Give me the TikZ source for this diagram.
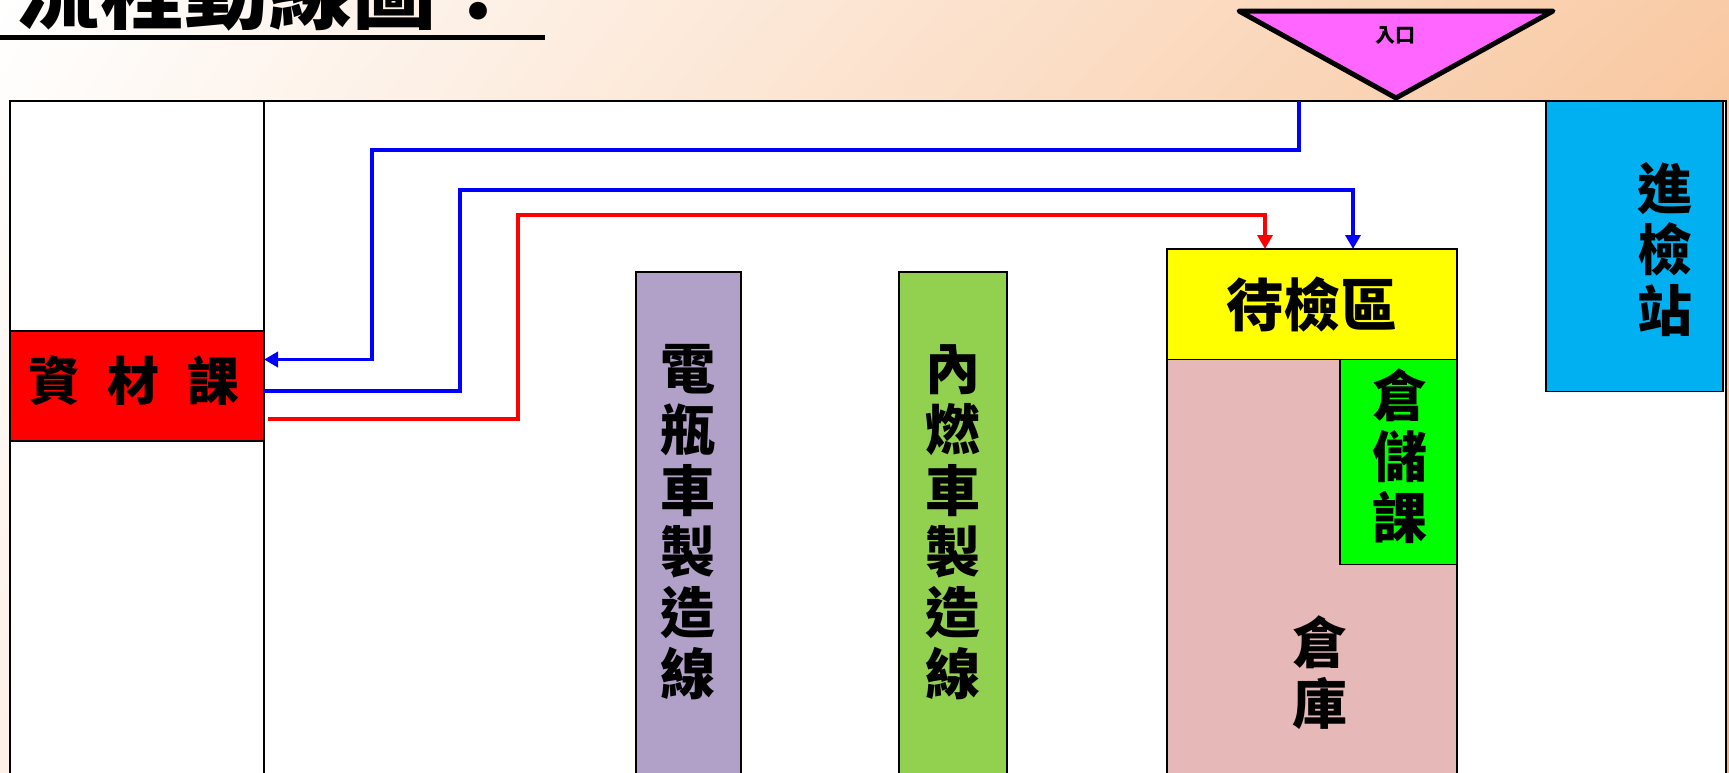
\documentclass[tikz,border=0pt]{standalone}
\usepackage{fontspec}
\newfontfamily\cjk{Noto Sans CJK TC}
\usetikzlibrary{arrows.meta,shadings}
\definecolor{bgA}{RGB}{255,255,255}
\definecolor{bgB}{RGB}{249,203,166}
\definecolor{bgC}{RGB}{253,240,230}
\definecolor{bgD}{RGB}{244,176,120}
\definecolor{zicaic}{RGB}{255,0,0}
\definecolor{lavc}{RGB}{177,160,199}
\definecolor{limec}{RGB}{146,208,80}
\definecolor{yelc}{RGB}{255,255,0}
\definecolor{pinkc}{RGB}{230,184,183}
\definecolor{grnc}{RGB}{0,255,0}
\definecolor{skyc}{RGB}{0,176,240}
\definecolor{magc}{RGB}{255,102,255}
\definecolor{flowblue}{RGB}{0,0,255}
\definecolor{flowred}{RGB}{255,0,0}
\tikzset{
  box/.style={draw=black, line width=1.8pt, anchor=north west, inner sep=0pt, outer sep=0pt},
  flow/.style={line width=3.5pt, line join=miter},
  tipend/.style={-{Triangle[length=14pt,width=15pt]}},
  bigtext/.style={font=\cjk\bfseries\fontsize{55}{61}\selectfont, align=center, inner sep=0pt},
}
\begin{document}
\begin{tikzpicture}[x=1pt,y=-1pt]
\useasboundingbox (0,0) rectangle (1729,772);
\begin{scope}
\clip (0,0) rectangle (1729,772);
\shade[upper left=bgA, upper right=bgB, lower left=bgC, lower right=bgD] (0,0) rectangle (1729,772);

% title
\node[font=\cjk\bfseries\fontsize{84}{84}\selectfont, anchor=west, inner sep=0pt] (title) at (16,-9) {流程動線圖：};
\draw[line width=4.5pt] (0,37.5) -- (545,37.5);

% hall
\node[box, fill=white, minimum width=1716pt, minimum height=720pt] (hall) at (10,101) {};
\coordinate (divtop) at (264,101);
\draw[line width=1.8pt] (divtop) -- ++(0,720);

% entrance triangle
\coordinate (t1) at (1239,11);
\coordinate (t2) at (1553,11);
\coordinate (t3) at (1396,98);
\draw[line width=5pt, line join=round, fill=magc] (t1) -- (t2) -- (t3) -- cycle;
\node[font=\cjk\bfseries\fontsize{20}{20}\selectfont, inner sep=0pt] (entry) at (1395,35) {入口};

% boxes
\node[box, fill=zicaic, minimum width=254pt, minimum height=110pt] (zicai) at (10,331) {};
\node[bigtext, font=\cjk\bfseries\fontsize{52}{52}\selectfont] (zicaitxt) at (134,381) {資\hspace{28pt}材\hspace{28pt}課};

\node[box, fill=lavc, minimum width=105pt, minimum height=560pt] (line1) at (636,272) {};
\node[bigtext, anchor=north] (line1txt) at (688,344) {電\\瓶\\車\\製\\造\\線};

\node[box, fill=limec, minimum width=108pt, minimum height=560pt] (line2) at (899,272) {};
\node[bigtext, anchor=north] (line2txt) at (953,344) {內\\燃\\車\\製\\造\\線};

\node[box, fill=pinkc, minimum width=290pt, minimum height=470pt] (store) at (1167,359.5) {};
\node[box, fill=yelc, minimum width=290pt, minimum height=110.5pt, font=\cjk\bfseries\fontsize{57}{57}\selectfont] (wait) at (1167,249) {待檢區};
\node[box, fill=grnc, minimum width=117pt, minimum height=205pt] (storedept) at (1340,359.5) {};
\node[bigtext] (storedepttxt) at (1400,456) {倉\\儲\\課};
\node[bigtext] (storetxt) at (1320,673) {倉\\庫};

\node[box, fill=skyc, minimum width=177pt, minimum height=290.5pt] (check) at (1546,101) {};
\node[bigtext] (checktxt) at (1665,250) {進\\檢\\站};

% flows
\coordinate (b1s) at (1299,101);
\coordinate (b1e) at (264,359.5);
\draw[flow, flowblue, tipend] (b1s) -- (1299,150) -- (372,150) -- (372,359.5) -- (b1e);

\coordinate (b2s) at (264,391);
\coordinate (b2e) at (1353,249);
\draw[flow, flowblue, tipend] (b2s) -- (460,391) -- (460,190) -- (1353,190) -- (b2e);

\coordinate (r1s) at (268,419);
\coordinate (r1e) at (1265,249);
\draw[flow, flowred, tipend] (r1s) -- (518,419) -- (518,215) -- (1265,215) -- (r1e);
\end{scope}
\end{tikzpicture}
\end{document}
